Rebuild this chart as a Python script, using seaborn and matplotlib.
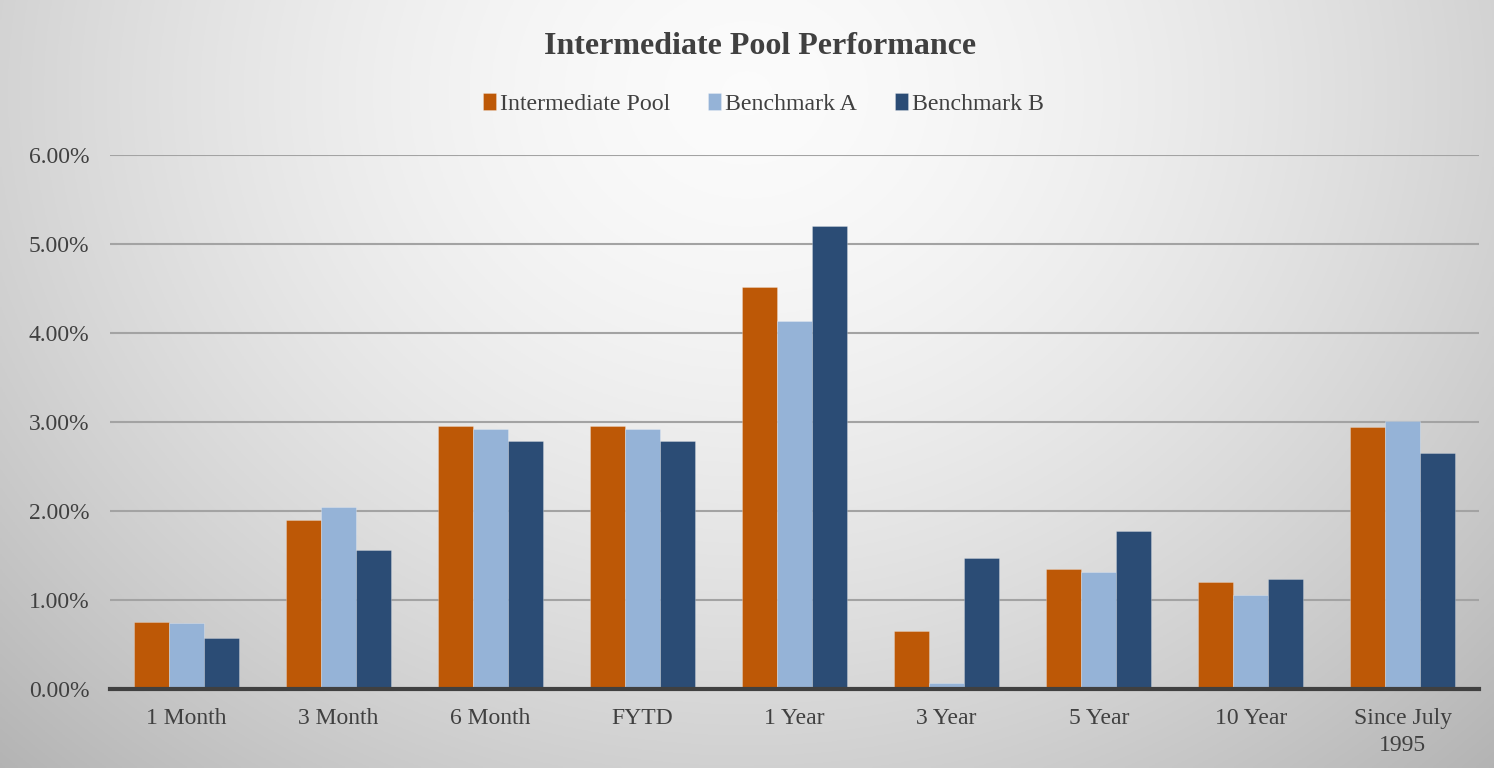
import numpy as np
import pandas as pd
import matplotlib
matplotlib.use('Agg')
import matplotlib.pyplot as plt
from matplotlib.ticker import FuncFormatter
import seaborn as sb

# DATA
#=====
periods = ['1 Month', '3 Month', '6 Month', 'FYTD', '1 Year', '3 Year',
           '5 Year', '10 Year', 'Since July\n1995']
series_names = ['Intermediate Pool', 'Benchmark A', 'Benchmark B']
pool = [0.756, 1.90, 2.955, 2.955, 4.52, 0.65, 1.35, 1.20, 2.94]
bench_a = [0.738, 2.04, 2.92, 2.92, 4.13, 0.067, 1.31, 1.056, 3.01]
bench_b = [0.573, 1.56, 2.79, 2.79, 5.205, 1.475, 1.77, 1.24, 2.65]
yticks = [0, 1, 2, 3, 4, 5, 6]

colors = ['#BD5806', '#95B3D7', '#2B4C75']
txt_col = '#404040'

df = pd.DataFrame({'Period': periods * 3,
                   'Series': np.repeat(series_names, len(periods)),
                   'Return': pool + bench_a + bench_b})

sb.set_style('white')
plt.rcParams['font.family'] = ['Liberation Serif', 'DejaVu Serif']

fig = plt.figure(figsize=(14.94, 7.68), dpi=100)

# radial grey background
bg = fig.add_axes([0, 0, 1, 1], zorder=-5)
xx, yy = np.meshgrid(np.linspace(0, 1, 600), np.linspace(0, 1, 300))
r = np.sqrt(((xx - 0.5) / 0.62) ** 2 + ((yy - 0.12) / 1.05) ** 2)
shade = 0.985 - 0.22 * np.clip(r, 0, 1.2) ** 1.6
img = np.dstack([shade, shade, shade])
bg.imshow(img, extent=[0, 1, 1, 0], aspect='auto')
bg.set_axis_off()

ax = fig.add_axes([110 / 1494, 1 - 689 / 768, (1479 - 110) / 1494, (689 - 155) / 768])
ax.set_facecolor('none')

sb.barplot(data=df, x='Period', y='Return', hue='Series', palette=colors,
           width=0.69, ax=ax, legend=True, saturation=1,
           edgecolor=(1, 1, 1, 0.35), linewidth=0.5)

ax.set_ylim(0, 6)
ax.set_yticks(yticks)
ax.yaxis.set_major_formatter(FuncFormatter(lambda v, p: '%.2f%%' % v))
ax.grid(axis='y', color='#a3a3a3', linewidth=1.5, zorder=0)
ax.set_axisbelow(True)
for s in ['top', 'right', 'left']:
    ax.spines[s].set_visible(False)
ax.spines['bottom'].set_color('#404040')
ax.spines['bottom'].set_linewidth(3)
ax.spines['bottom'].set_zorder(5)
ax.set_xlabel('')
ax.set_ylabel('')
ax.tick_params(axis='both', length=0, labelsize=17, labelcolor=txt_col)
ax.tick_params(axis='y', pad=15)
ax.tick_params(axis='x', pad=14)
for lab in ax.get_xticklabels():
    lab.set_linespacing(1.35)
ax.set_xlim(-0.5, len(periods) - 0.5)

handles, labels = ax.get_legend_handles_labels()
ax.legend_.remove()
fig.legend(handles, labels, loc='center', bbox_to_anchor=(0.511, 1 - 104 / 768),
           ncol=3, frameon=False, fontsize=17.2, handlelength=0.55,
           handleheight=0.7, handletextpad=0.15, columnspacing=1.6,
           labelcolor=txt_col)

fig.text(0.509, 1 - 47 / 768, 'Intermediate Pool Performance', ha='center',
         va='center', fontsize=23, fontweight='bold', color=txt_col)

fig.savefig('out.png', dpi=100)
